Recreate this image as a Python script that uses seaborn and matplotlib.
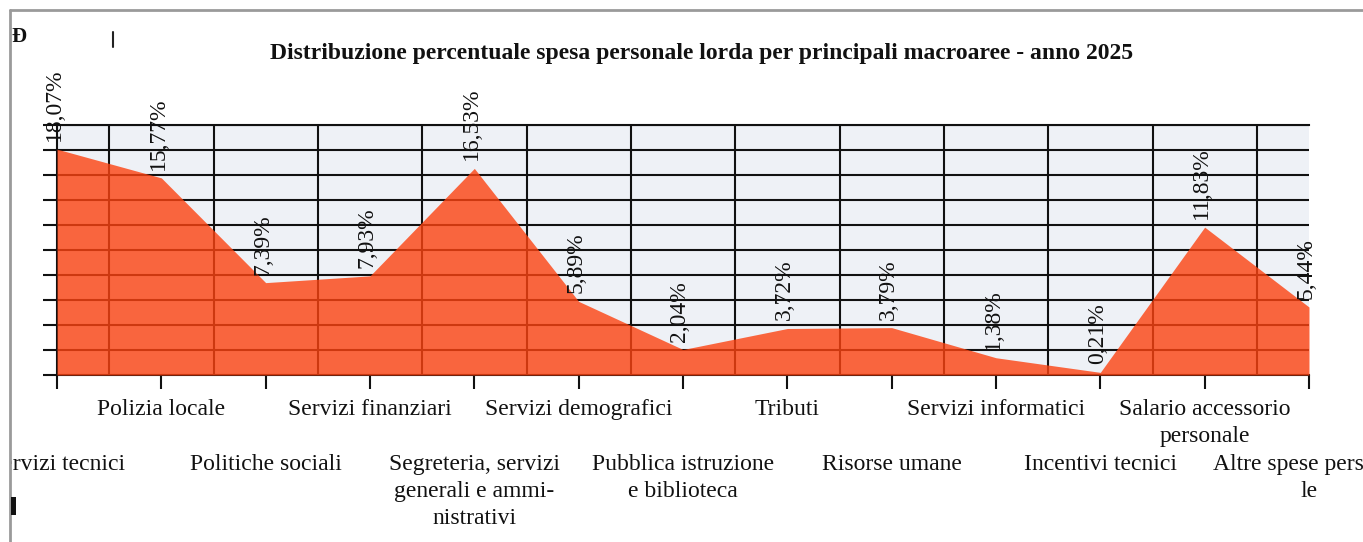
import numpy as np
import pandas as pd
import matplotlib
matplotlib.use("Agg")
import matplotlib.pyplot as plt
import seaborn as sns
from matplotlib.patches import Rectangle
from matplotlib.lines import Line2D

title = "Distribuzione percentuale spesa personale lorda per principali macroaree - anno 2025"
categories = [
    "Servizi tecnici",
    "Polizia locale",
    "Politiche sociali",
    "Servizi finanziari",
    "Segreteria, servizi\ngenerali e ammi-\nnistrativi",
    "Servizi demografici",
    "Pubblica istruzione\ne biblioteca",
    "Tributi",
    "Risorse umane",
    "Servizi informatici",
    "Incentivi tecnici",
    "Salario accessorio\npersonale",
    "Altre spese persona-\nle",
]
values = [18.07, 15.77, 7.39, 7.93, 16.53, 5.89, 2.04, 3.72, 3.79, 1.38, 0.21, 11.83, 5.44]
value_labels = ["18,07%", "15,77%", "7,39%", "7,93%", "16,53%", "5,89%", "2,04%",
                "3,72%", "3,79%", "1,38%", "0,21%", "11,83%", "5,44%"]

sns.set_theme(style="white")
plt.rcParams["font.family"] = ["Liberation Serif", "DejaVu Serif"]

W, H = 1363, 542
fig = plt.figure(figsize=(W / 100, H / 100), dpi=100)
fig.patch.set_facecolor("white")
ax = fig.add_axes([57 / W, 1 - 375 / H, (1309 - 57) / W, 250 / H])
ax.set_facecolor("#EEF1F6")

df = pd.DataFrame({"x": np.arange(len(values)), "y": values})
sns.lineplot(data=df, x="x", y="y", ax=ax, linewidth=0, color="#FD4210", zorder=1)
ax.fill_between(df["x"], 0, df["y"], color="#FD4210", alpha=0.8, linewidth=0, zorder=1)

ax.set_xlim(0, len(values) - 1)
ax.set_ylim(0, 20)
ax.set_xlabel("")
ax.set_ylabel("")

ax.set_xticks(np.arange(len(values)))
ax.set_xticks(np.arange(len(values) - 1) + 0.5, minor=True)
ax.set_xticklabels([])
ax.set_yticks(np.arange(0, 21, 2))
ax.set_yticklabels([])
ax.tick_params(axis="x", which="major", length=10, width=1.5, color="#111111", bottom=True, direction="out")
ax.tick_params(axis="x", which="minor", length=0)
ax.tick_params(axis="y", which="major", length=10, width=1.5, color="#111111", left=True, direction="out")
ax.set_axisbelow(True)
ax.grid(True, axis="y", which="major", color="#111111", linewidth=1.5)
ax.grid(True, axis="x", which="minor", color="#111111", linewidth=1.5)
ax.grid(False, axis="x", which="major")

for side in ["left", "bottom", "top"]:
    ax.spines[side].set_visible(True)
    ax.spines[side].set_color("#111111")
    ax.spines[side].set_linewidth(1.5)
    ax.spines[side].set_zorder(0.6)
ax.spines["right"].set_visible(False)

for i, (v, lab) in enumerate(zip(values, value_labels)):
    ax.annotate(lab, xy=(i, v), xytext=(-3, 8), textcoords="offset pixels",
                rotation=90, ha="center", va="bottom", fontsize=17, color="#111111",
                annotation_clip=False)

for i, cat in enumerate(categories):
    off = -24 if i % 2 == 1 else -79
    ax.annotate(cat, xy=(i, 0), xytext=(0, off), textcoords="offset pixels",
                ha="center", va="top", fontsize=17, color="#111111",
                linespacing=1.38, annotation_clip=False)

fig.text(702 / W, 1 - 54 / H, title, ha="center", va="center",
         fontsize=17, fontweight="bold", color="#111111")

# frame and artefacts
fig.add_artist(Rectangle((0, 0), 10 / W, 1, transform=fig.transFigure,
                         facecolor="white", edgecolor="none", zorder=10))
fig.add_artist(Rectangle((0, 1 - 10 / H), 1, 10 / H, transform=fig.transFigure,
                         facecolor="white", edgecolor="none", zorder=10))
fig.add_artist(Line2D([10 / W, 10 / W], [0, 1 - 10 / H], transform=fig.transFigure,
                      color="#9a9a9a", linewidth=2, zorder=11))
fig.add_artist(Line2D([10 / W, 1], [1 - 10 / H, 1 - 10 / H], transform=fig.transFigure,
                      color="#9a9a9a", linewidth=2, zorder=11))
fig.add_artist(Line2D([113 / W, 113 / W], [1 - 47 / H, 1 - 32 / H], transform=fig.transFigure,
                      color="#222222", linewidth=1.5, zorder=11))
fig.add_artist(Rectangle((11 / W, 1 - 515 / H), 5 / W, 18 / H, transform=fig.transFigure,
                         facecolor="#111111", edgecolor="none", zorder=11))
fig.text(11 / W, 1 - 37 / H, "Ð", ha="left", va="center", fontsize=15,
         fontweight="bold", color="#111111", zorder=12)

fig.savefig("out.png", dpi=100)
